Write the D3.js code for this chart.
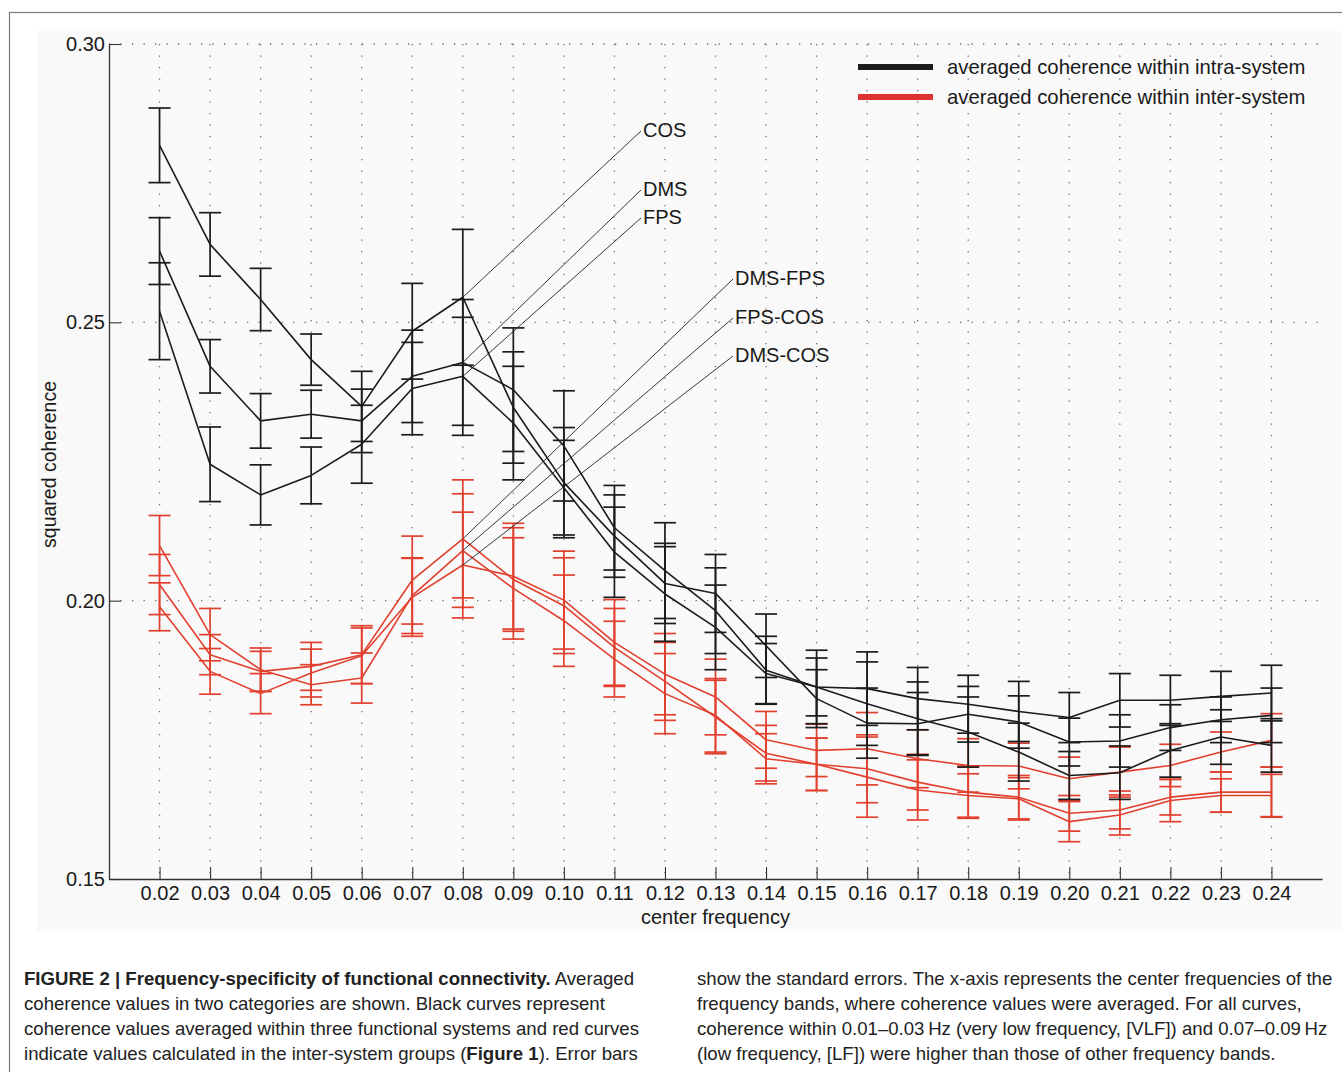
<!DOCTYPE html>
<html>
<head>
<meta charset="utf-8">
<script src="https://cdn.jsdelivr.net/npm/d3@7"></script>
<style>
  html, body { margin: 0; padding: 0; background: #ffffff; }
  svg { display: block; font-family: "Liberation Sans", Arial, Helvetica, sans-serif; }
</style>
</head>
<body>
<svg id="fig" width="1342" height="1072"></svg>
<script>
// Center frequencies of the bands (Hz)
const freqs = [0.02, 0.03, 0.04, 0.05, 0.06, 0.07, 0.08, 0.09, 0.10, 0.11, 0.12, 0.13,
               0.14, 0.15, 0.16, 0.17, 0.18, 0.19, 0.20, 0.21, 0.22, 0.23, 0.24];
const yTicks = [0.15, 0.20, 0.25, 0.30];

// Intra-system coherence (mean and standard error)
const cosMean = [0.2818, 0.2640, 0.2541, 0.2433, 0.2349, 0.2484, 0.2545, 0.2347, 0.2212, 0.2116, 0.2031, 0.2013,
                 0.1919, 0.1824, 0.1780, 0.1779, 0.1796, 0.1782, 0.1746, 0.1748, 0.1772, 0.1786, 0.1794];
const cosSE   = [0.0067, 0.0057, 0.0056, 0.0046, 0.0063, 0.0086, 0.0122, 0.0100, 0.0099, 0.0074, 0.0072, 0.0070,
                 0.0057, 0.0052, 0.0063, 0.0056, 0.0050, 0.0047, 0.0043, 0.0047, 0.0041, 0.0041, 0.0049];
const dmsMean = [0.2628, 0.2421, 0.2323, 0.2335, 0.2323, 0.2403, 0.2428, 0.2379, 0.2278, 0.2131, 0.2054, 0.1982,
                 0.1875, 0.1845, 0.1842, 0.1824, 0.1814, 0.1801, 0.1790, 0.1821, 0.1821, 0.1828, 0.1834];
const dmsSE   = [0.0060, 0.0048, 0.0049, 0.0043, 0.0057, 0.0083, 0.0113, 0.0111, 0.0099, 0.0076, 0.0086, 0.0077,
                 0.0061, 0.0066, 0.0066, 0.0056, 0.0052, 0.0054, 0.0045, 0.0048, 0.0045, 0.0045, 0.0050];
const fpsMean = [0.2520, 0.2245, 0.2190, 0.2225, 0.2281, 0.2381, 0.2403, 0.2319, 0.2203, 0.2087, 0.2012, 0.1952,
                 0.1869, 0.1845, 0.1815, 0.1788, 0.1764, 0.1728, 0.1686, 0.1691, 0.1731, 0.1755, 0.1740];
const fpsSE   = [0.0087, 0.0067, 0.0054, 0.0051, 0.0070, 0.0083, 0.0106, 0.0102, 0.0085, 0.0081, 0.0085, 0.0076,
                 0.0054, 0.0052, 0.0075, 0.0066, 0.0063, 0.0052, 0.0043, 0.0048, 0.0048, 0.0049, 0.0048];

// Inter-system coherence (mean and standard error)
const dmsFpsMean = [0.2029, 0.1903, 0.1873, 0.1882, 0.1903, 0.2037, 0.2111, 0.2038, 0.1991, 0.1916, 0.1855, 0.1791,
                    0.1726, 0.1706, 0.1698, 0.1674, 0.1656, 0.1647, 0.1618, 0.1624, 0.1647, 0.1656, 0.1656];
const dmsFpsSE   = [0.0054, 0.0036, 0.0036, 0.0043, 0.0052, 0.0079, 0.0106, 0.0093, 0.0086, 0.0070, 0.0070, 0.0066,
                    0.0050, 0.0047, 0.0061, 0.0050, 0.0047, 0.0039, 0.0032, 0.0034, 0.0032, 0.0036, 0.0045];
const fpsCosMean = [0.2099, 0.1939, 0.1876, 0.1849, 0.1861, 0.2009, 0.2090, 0.2022, 0.1964, 0.1895, 0.1833, 0.1794,
                    0.1716, 0.1706, 0.1683, 0.1660, 0.1650, 0.1644, 0.1603, 0.1615, 0.1641, 0.1650, 0.1650];
const fpsCosSE   = [0.0054, 0.0047, 0.0039, 0.0036, 0.0045, 0.0068, 0.0102, 0.0091, 0.0082, 0.0068, 0.0072, 0.0066,
                    0.0045, 0.0047, 0.0072, 0.0054, 0.0039, 0.0038, 0.0036, 0.0036, 0.0038, 0.0030, 0.0038];
const dmsCosMean = [0.1989, 0.1873, 0.1833, 0.1870, 0.1901, 0.2006, 0.2064, 0.2044, 0.2001, 0.1925, 0.1868, 0.1827,
                    0.1750, 0.1731, 0.1734, 0.1716, 0.1704, 0.1703, 0.1680, 0.1692, 0.1704, 0.1728, 0.1749];
const dmsCosSE   = [0.0043, 0.0041, 0.0036, 0.0043, 0.0050, 0.0070, 0.0095, 0.0095, 0.0088, 0.0077, 0.0073, 0.0068,
                    0.0051, 0.0047, 0.0065, 0.0052, 0.0048, 0.0041, 0.0039, 0.0045, 0.0038, 0.0036, 0.0048];

// Curve names used for the callouts, and where each callout text sits
const intraNames = ["COS", "DMS", "FPS"];
const interNames = ["DMS-FPS", "FPS-COS", "DMS-COS"];
const legendLabels = ["averaged coherence within intra-system", "averaged coherence within inter-system"];
const calloutFreq = 0.08;

const BLACK = "#1c1c1c";
const RED = "#e2402f";

const svg = d3.select("#fig");

// Outer figure frame and plot backdrop
svg.append("rect").attr("x", 9.5).attr("y", 12.5).attr("width", 1400).attr("height", 1100)
  .attr("fill", "#ffffff").attr("stroke", "#7a7a7a").attr("stroke-width", 1.2);
svg.append("rect").attr("x", 37).attr("y", 31).attr("width", 1305).attr("height", 900)
  .attr("fill", "#f9f9f9");

const x = d3.scaleLinear().domain([0.01, 0.25]).range([109, 1322]);
const y = d3.scaleLinear().domain([0.15, 0.30]).range([879, 44]);

// Dotted grid
const grid = svg.append("g").attr("stroke", "#6d6d6d").attr("stroke-width", 1.3)
  .attr("stroke-dasharray", "1.3 10.2").attr("fill", "none");
grid.selectAll("line.v").data(freqs).join("line").attr("class", "v")
  .attr("x1", d => x(d)).attr("x2", d => x(d)).attr("y1", y(0.30)).attr("y2", y(0.15));
grid.selectAll("line.h").data(yTicks.filter(t => t > 0.15)).join("line").attr("class", "h")
  .attr("x1", x(0.01)).attr("x2", x(0.25)).attr("y1", d => y(d)).attr("y2", d => y(d));

// Axes with inward ticks
const yAxis = svg.append("g").attr("transform", `translate(${x(0.01)},0)`)
  .call(d3.axisLeft(y).tickValues(yTicks).tickFormat(d3.format(".2f")).tickSize(-12).tickSizeOuter(0).tickPadding(4));
const xAxis = svg.append("g").attr("transform", `translate(0,${y(0.15)})`)
  .call(d3.axisBottom(x).tickValues(freqs).tickFormat(d3.format(".2f")).tickSize(-12).tickSizeOuter(0).tickPadding(7));
[yAxis, xAxis].forEach(g => {
  g.select(".domain").attr("stroke", "#333").attr("stroke-width", 1.3);
  g.selectAll(".tick line").attr("stroke", "#333").attr("stroke-width", 1.1);
  g.selectAll(".tick text").attr("fill", "#1a1a1a").style("font-size", "20px")
    .style("font-family", "'Liberation Sans', Arial, sans-serif");
});

svg.append("text").attr("x", x(0.13)).attr("y", 924).attr("text-anchor", "middle")
  .style("font-size", "20px").attr("fill", "#1a1a1a").text("center frequency");
svg.append("text").attr("transform", `translate(56,${y(0.225) + 3}) rotate(-90)`).attr("text-anchor", "middle")
  .style("font-size", "19.5px").attr("fill", "#1a1a1a").text("squared coherence");

// Curves with standard-error bars
function series(means, ses) {
  return freqs.map((f, i) => ({ f, m: means[i], se: ses[i] }));
}
const intra = [series(cosMean, cosSE), series(dmsMean, dmsSE), series(fpsMean, fpsSE)];
const inter = [series(dmsFpsMean, dmsFpsSE), series(fpsCosMean, fpsCosSE), series(dmsCosMean, dmsCosSE)];

const line = d3.line().x(d => x(d.f)).y(d => y(d.m));
const capHalf = 11;

function drawGroup(groups, color) {
  const g = svg.append("g");
  groups.forEach(s => {
    const eb = g.append("g").attr("stroke", color).attr("stroke-width", 1.7).attr("fill", "none");
    eb.selectAll("line.stem").data(s).join("line").attr("class", "stem")
      .attr("x1", d => x(d.f)).attr("x2", d => x(d.f))
      .attr("y1", d => y(d.m + d.se)).attr("y2", d => y(d.m - d.se));
    eb.selectAll("line.capT").data(s).join("line").attr("class", "capT")
      .attr("x1", d => x(d.f) - capHalf).attr("x2", d => x(d.f) + capHalf)
      .attr("y1", d => y(d.m + d.se)).attr("y2", d => y(d.m + d.se));
    eb.selectAll("line.capB").data(s).join("line").attr("class", "capB")
      .attr("x1", d => x(d.f) - capHalf).attr("x2", d => x(d.f) + capHalf)
      .attr("y1", d => y(d.m - d.se)).attr("y2", d => y(d.m - d.se));
  });
  groups.forEach(s => {
    g.append("path").datum(s).attr("d", line).attr("fill", "none")
      .attr("stroke", color).attr("stroke-width", 1.6).attr("stroke-linejoin", "round");
  });
}
drawGroup(inter, RED);
drawGroup(intra, BLACK);

// Callouts naming each curve at 0.08 Hz
const ci = freqs.indexOf(calloutFreq);
const callouts = [
  { s: intra[0], name: intraNames[0], tx: 643, ty: 130 },
  { s: intra[1], name: intraNames[1], tx: 643, ty: 189 },
  { s: intra[2], name: intraNames[2], tx: 643, ty: 217 },
  { s: inter[0], name: interNames[0], tx: 735, ty: 278 },
  { s: inter[1], name: interNames[1], tx: 735, ty: 317 },
  { s: inter[2], name: interNames[2], tx: 735, ty: 355 }
];
const co = svg.append("g");
callouts.forEach(c => {
  co.append("line").attr("x1", x(calloutFreq)).attr("y1", y(c.s[ci].m))
    .attr("x2", c.tx - 2).attr("y2", c.ty + 1)
    .attr("stroke", "#222").attr("stroke-width", 0.9);
  co.append("text").attr("x", c.tx).attr("y", c.ty).attr("dy", "0.36em")
    .style("font-size", "20px").attr("fill", "#1a1a1a").text(c.name);
});

// Legend
const lg = svg.append("g");
[BLACK, "#dc3232"].forEach((col, i) => {
  const ly = 67 + i * 30;
  lg.append("line").attr("x1", 858).attr("x2", 933).attr("y1", ly).attr("y2", ly)
    .attr("stroke", col).attr("stroke-width", 6);
  lg.append("text").attr("x", 947).attr("y", ly).attr("dy", "0.36em")
    .style("font-size", "20.3px").attr("fill", "#1a1a1a").text(legendLabels[i]);
});

// Caption
const cap = svg.append("g").style("font-size", "18.6px").attr("fill", "#222");
const leftLines = [
  [["FIGURE 2 | Frequency-specificity of functional connectivity.", true], [" Averaged", false]],
  [["coherence values in two categories are shown. Black curves represent", false]],
  [["coherence values averaged within three functional systems and red curves", false]],
  [["indicate values calculated in the inter-system groups (", false], ["Figure 1", true], ["). Error bars", false]]
];
const rightLines = [
  [["show the standard errors. The x-axis represents the center frequencies of the", false]],
  [["frequency bands, where coherence values were averaged. For all curves,", false]],
  [["coherence within 0.01–0.03\u2009Hz (very low frequency, [VLF]) and 0.07–0.09\u2009Hz", false]],
  [["(low frequency, [LF]) were higher than those of other frequency bands.", false]]
];
function writeColumn(lines, x0) {
  lines.forEach((parts, i) => {
    const t = cap.append("text").attr("x", x0).attr("y", 985 + i * 25);
    parts.forEach(([txt, bold]) => {
      t.append("tspan").attr("font-weight", bold ? "bold" : "normal").text(txt);
    });
  });
}
writeColumn(leftLines, 24);
writeColumn(rightLines, 697);
</script>
</body>
</html>
